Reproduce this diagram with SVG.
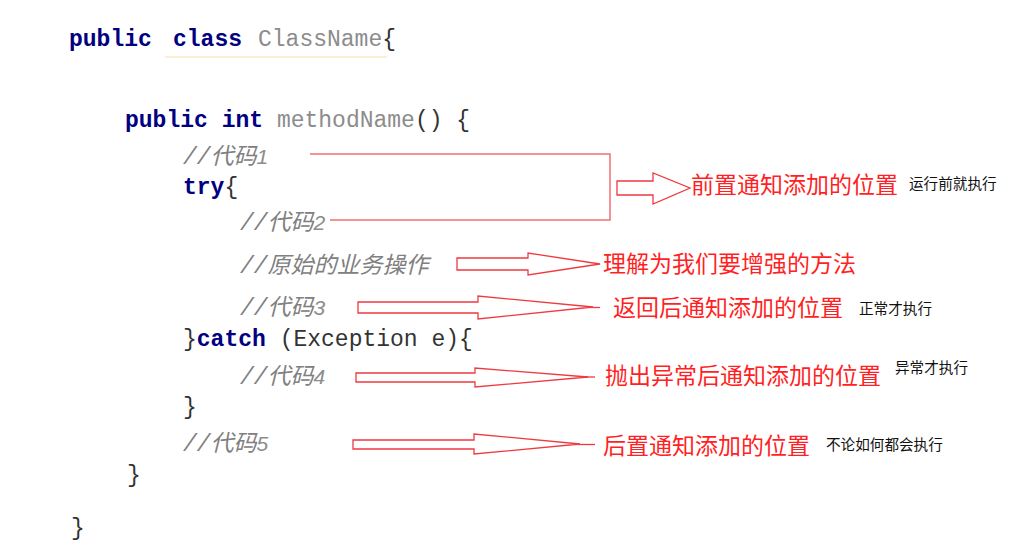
<svg xmlns="http://www.w3.org/2000/svg" width="1015" height="550" viewBox="0 0 1015 550">
<style>
.code{font-family:"Liberation Mono","Noto Sans CJK SC",monospace;font-size:23px;fill:#333333}
.kw{font-weight:bold;fill:#000080}
.nm{fill:#8c8c8c}
.cm{font-family:"Liberation Mono","Noto Sans CJK SC",monospace;font-size:23px;font-style:italic;fill:#808080}
.cmd{font-family:"Liberation Sans",sans-serif;font-size:21px;font-style:italic;fill:#8c8c8c}
.red{font-family:"Noto Sans CJK SC",sans-serif;font-size:23px;fill:#ff1f24}
.note{font-family:"Noto Sans CJK SC",sans-serif;font-size:14.6px;fill:#111111}
.arr{fill:#ffffff;stroke:#ee3a40;stroke-width:1.3}
.br{fill:none;stroke:#f07070;stroke-width:1.5}
</style>
<rect width="1015" height="550" fill="#ffffff"/>
<g id="code">
<line x1="165" y1="57" x2="387" y2="57" stroke="#fbeed2" stroke-width="2"/>
<text class="code" x="69" y="46"><tspan class="kw">public</tspan></text>
<text class="code" x="173" y="46"><tspan class="kw">class</tspan></text>
<text class="code" x="258" y="46"><tspan class="nm">ClassName</tspan>{</text>
<text class="code" x="125" y="127"><tspan class="kw">public</tspan> <tspan class="kw">int</tspan> <tspan class="nm">methodName</tspan>() {</text>
<text class="cm" x="183" y="164">//代码<tspan class="cmd">1</tspan></text>
<text class="code" x="183" y="194"><tspan class="kw">try</tspan>{</text>
<text class="cm" x="240" y="230">//代码<tspan class="cmd">2</tspan></text>
<text class="cm" x="240" y="273">//原始的业务操作</text>
<text class="cm" x="240" y="315">//代码<tspan class="cmd">3</tspan></text>
<text class="code" x="183" y="346">}<tspan class="kw">catch</tspan> (Exception e){</text>
<text class="cm" x="240" y="384">//代码<tspan class="cmd">4</tspan></text>
<text class="code" x="183" y="414">}</text>
<text class="cm" x="183" y="451">//代码<tspan class="cmd">5</tspan></text>
<text class="code" x="127" y="482">}</text>
<text class="code" x="71" y="535">}</text>
</g>
<g id="connectors">
<polyline class="br" points="310,154 610,154 610,220 330,220"/>
<polygon class="arr" points="617,181 653,181 653,173 690,188 653,204 653,195 617,195"/>
<polygon class="arr" points="457,258 528,258 528,253 600,264 528,275 528,270 457,270"/>
<polygon class="arr" points="358,302 478,302 478,296 593,307 478,319 478,313 358,313"/>
<line x1="590" y1="307.5" x2="600" y2="307.5" stroke="#ee3a40" stroke-width="1.3"/>
<polygon class="arr" points="356,373 475,373 475,368 588,377 475,387 475,382 356,382"/>
<line x1="585" y1="377" x2="595" y2="377" stroke="#ee3a40" stroke-width="1.3"/>
<polygon class="arr" points="353,440 474,440 474,434 580,444 474,454 474,449 353,449"/>
<line x1="578" y1="444.5" x2="595" y2="444.5" stroke="#ee3a40" stroke-width="1.3"/>
</g>
<g id="label-before">
<text class="red" x="691" y="193">前置通知添加的位置</text>
<text class="note" x="909" y="189">运行前就执行</text>
</g>
<g id="label-method">
<text class="red" x="603" y="272">理解为我们要增强的方法</text>
</g>
<g id="label-return">
<text class="red" x="613" y="316">返回后通知添加的位置</text>
<text class="note" x="859" y="314">正常才执行</text>
</g>
<g id="label-throw">
<text class="red" x="605" y="384">抛出异常后通知添加的位置</text>
<text class="note" x="895" y="373">异常才执行</text>
</g>
<g id="label-after">
<text class="red" x="603" y="454">后置通知添加的位置</text>
<text class="note" x="826" y="450">不论如何都会执行</text>
</g>
</svg>
